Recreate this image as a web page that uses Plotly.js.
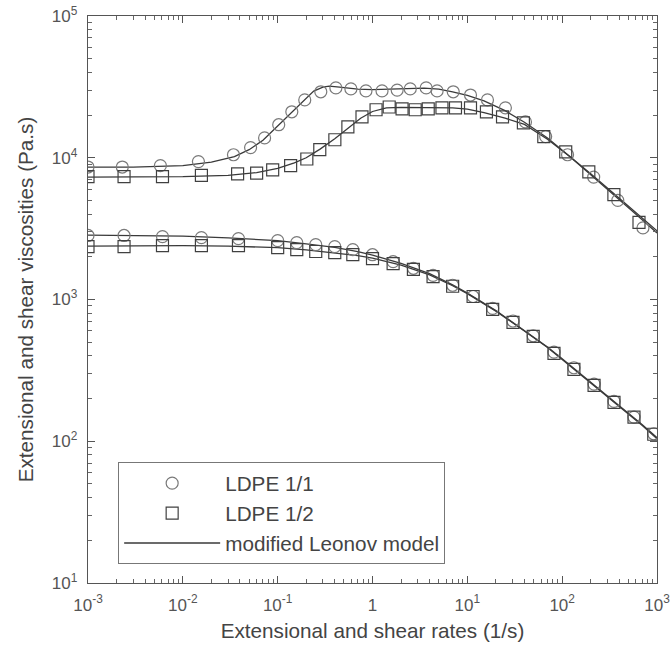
<!DOCTYPE html>
<html>
<head>
<meta charset="utf-8">
<script src="https://cdn.plot.ly/plotly-3.0.1.min.js"></script>
<style>html,body{margin:0;padding:0;background:#fff;}#chart{width:672px;height:649px;}</style>
</head>
<body>
<div id="chart"></div>
<script>
// ---- data ----
// LDPE 1/1, extensional (circles, upper)
const ext11_x = [0.001, 0.0023, 0.0058, 0.0146, 0.0342, 0.0518, 0.0728, 0.1026, 0.141, 0.193, 0.285, 0.411, 0.592, 0.853, 1.26, 1.82, 2.5, 3.68, 4.8, 7.1, 10.8, 16.3, 25.2, 41, 67, 114, 215, 386, 711];
const ext11_y = [8600, 8600, 8800, 9400, 10500, 11800, 13800, 17100, 21100, 25600, 29200, 31100, 30600, 29600, 29600, 30000, 30600, 31100, 29600, 29200, 27700, 25600, 22500, 17900, 14100, 10500, 7300, 5000, 3200];
// LDPE 1/2, extensional (squares, upper)
const ext12_x = [0.001, 0.0024, 0.0061, 0.0157, 0.0378, 0.06, 0.0886, 0.137, 0.203, 0.278, 0.401, 0.55, 0.775, 1.09, 1.5, 2.05, 2.82, 3.87, 5.4, 7.5, 10.8, 15.9, 23.5, 39, 64, 109, 191, 351, 646];
const ext12_y = [7350, 7350, 7350, 7500, 7700, 7800, 8200, 8800, 9800, 11400, 13400, 16500, 19400, 21800, 22800, 22100, 21800, 22100, 22500, 22500, 22500, 21100, 19400, 17600, 14100, 11000, 7960, 5500, 3500];
// shear (lower) - same rates for both materials
const shear_x = [0.001, 0.0024, 0.0061, 0.0157, 0.0386, 0.1, 0.159, 0.252, 0.40, 0.62, 1.0, 1.65, 2.7, 4.35, 7.0, 11.5, 18.5, 30.3, 49.5, 82, 133, 217, 352, 572, 924];
const shear11_y = [2830, 2830, 2780, 2730, 2690, 2600, 2520, 2440, 2360, 2250, 2070, 1850, 1660, 1480, 1260, 1050, 865, 705, 555, 425, 330, 253, 191, 148, 113];
const shear12_y = [2360, 2360, 2400, 2400, 2400, 2320, 2250, 2180, 2140, 2070, 1940, 1790, 1630, 1450, 1240, 1050, 851, 689, 549, 417, 321, 248, 188, 148, 112];

// modified Leonov model curves
const modExt11_x = [0.001, 0.003, 0.01, 0.02, 0.035, 0.05, 0.07, 0.1, 0.14, 0.19, 0.24, 0.3, 0.35, 0.45, 0.7, 1, 2, 3.5, 5, 7, 10, 15, 25, 40, 70, 120, 200, 350, 600, 1000];
const modExt11_y = [8600, 8600, 8800, 9300, 10200, 11400, 13300, 16800, 20800, 25500, 29500, 31500, 32000, 31500, 30500, 30200, 30500, 31000, 30500, 29200, 27500, 25200, 21500, 17800, 13800, 10300, 7700, 5600, 4100, 3050];
const modExt12_x = [0.001, 0.01, 0.03, 0.06, 0.1, 0.15, 0.2, 0.28, 0.4, 0.55, 0.75, 1.0, 1.4, 2, 4, 7, 10, 15, 25, 40, 70, 120, 200, 350, 600, 1000];
const modExt12_y = [7300, 7350, 7500, 7850, 8400, 9200, 10000, 11500, 13600, 16200, 19000, 21200, 22500, 22700, 22600, 22500, 22000, 20800, 19000, 17200, 13500, 10200, 7600, 5500, 4000, 2950];
const modShear11_x = [0.001, 0.01, 0.03, 0.1, 0.2, 0.4, 0.7, 1, 2, 4, 7, 10, 20, 40, 70, 100, 200, 400, 700, 1000];
const modShear11_y = [2850, 2800, 2720, 2600, 2470, 2330, 2180, 2060, 1800, 1520, 1270, 1110, 835, 605, 462, 382, 262, 177, 131, 106];
const modShear12_x = [0.001, 0.01, 0.03, 0.1, 0.2, 0.4, 0.7, 1, 2, 4, 7, 10, 20, 40, 70, 100, 200, 400, 700, 1000];
const modShear12_y = [2380, 2400, 2380, 2320, 2240, 2140, 2040, 1960, 1750, 1490, 1250, 1100, 828, 600, 458, 378, 259, 175, 129, 104];

// tick labels
const xTickVals = [0.001, 0.01, 0.1, 1, 10, 100, 1000];
const xTickText = ['10<sup>-3</sup>', '10<sup>-2</sup>', '10<sup>-1</sup>', '1', '10<sup>1</sup>', '10<sup>2</sup>', '10<sup>3</sup>'];
const yTickVals = [10, 100, 1000, 10000, 100000];
const yTickText = ['10<sup>1</sup>', '10<sup>2</sup>', '10<sup>3</sup>', '10<sup>4</sup>', '10<sup>5</sup>'];

// ---- styles ----
const lineStyle = {color: '#3a3a3a', width: 1.3};
const circleMarker = {symbol: 'circle-open', size: 12, color: '#7a7a7a', line: {width: 1.2, color: '#7a7a7a'}};
const squareMarker = {symbol: 'square-open', size: 12, color: '#404040', line: {width: 1.2, color: '#404040'}};

const traces = [
  {x: modExt11_x, y: modExt11_y, mode: 'lines', line: lineStyle, name: 'modified Leonov model', legendgroup: 'm', showlegend: true, legendrank: 3},
  {x: modExt12_x, y: modExt12_y, mode: 'lines', line: lineStyle, legendgroup: 'm', showlegend: false},
  {x: modShear11_x, y: modShear11_y, mode: 'lines', line: lineStyle, legendgroup: 'm', showlegend: false},
  {x: modShear12_x, y: modShear12_y, mode: 'lines', line: lineStyle, legendgroup: 'm', showlegend: false},
  {x: ext11_x, y: ext11_y, mode: 'markers', marker: circleMarker, name: 'LDPE 1/1', legendgroup: 'a', showlegend: true, legendrank: 1},
  {x: shear_x, y: shear11_y, mode: 'markers', marker: circleMarker, legendgroup: 'a', showlegend: false},
  {x: ext12_x, y: ext12_y, mode: 'markers', marker: squareMarker, name: 'LDPE 1/2', legendgroup: 'b', showlegend: true, legendrank: 2},
  {x: shear_x, y: shear12_y, mode: 'markers', marker: squareMarker, legendgroup: 'b', showlegend: false}
];

const axisCommon = {
  type: 'log',
  showline: true, linecolor: '#555', linewidth: 1.2,
  mirror: 'allticks',
  ticks: 'inside', ticklen: 7, tickwidth: 1.1, tickcolor: '#555',
  showgrid: false, zeroline: false,
  tickmode: 'array',
  tickfont: {family: 'Liberation Sans, Arial, sans-serif', size: 17, color: '#555'},
  minor: {ticks: 'inside', ticklen: 4, tickwidth: 1, tickcolor: '#666', dtick: 'D1', showgrid: false}
};

const layout = {
  width: 672, height: 649,
  margin: {l: 88, r: 15, t: 16, b: 66},
  paper_bgcolor: '#fff', plot_bgcolor: '#fff',
  font: {family: 'Liberation Sans, Arial, sans-serif', color: '#444'},
  showlegend: true,
  xaxis: Object.assign({}, axisCommon, {
    range: [-3, 3],
    tickvals: xTickVals, ticktext: xTickText,
    ticklabelstandoff: 6,
    title: {text: 'Extensional and shear rates (1/s)', font: {size: 20.7, color: '#444'}, standoff: 10}
  }),
  yaxis: Object.assign({}, axisCommon, {
    range: [1, 5],
    tickvals: yTickVals, ticktext: yTickText,
    ticklabelstandoff: 6,
    title: {text: 'Extensional and shear viscosities (Pa.s)', font: {size: 20.7, color: '#444'}, standoff: 12}
  }),
  legend: {
    x: 0.053, y: 0.213, xanchor: 'left', yanchor: 'top',
    bgcolor: '#fff', bordercolor: '#777', borderwidth: 1,
    font: {size: 20.7, color: '#444'},
    itemwidth: 96,
    traceorder: 'normal'
  }
};

Plotly.newPlot('chart', traces, layout, {staticPlot: true, displayModeBar: false});
</script>
</body>
</html>
